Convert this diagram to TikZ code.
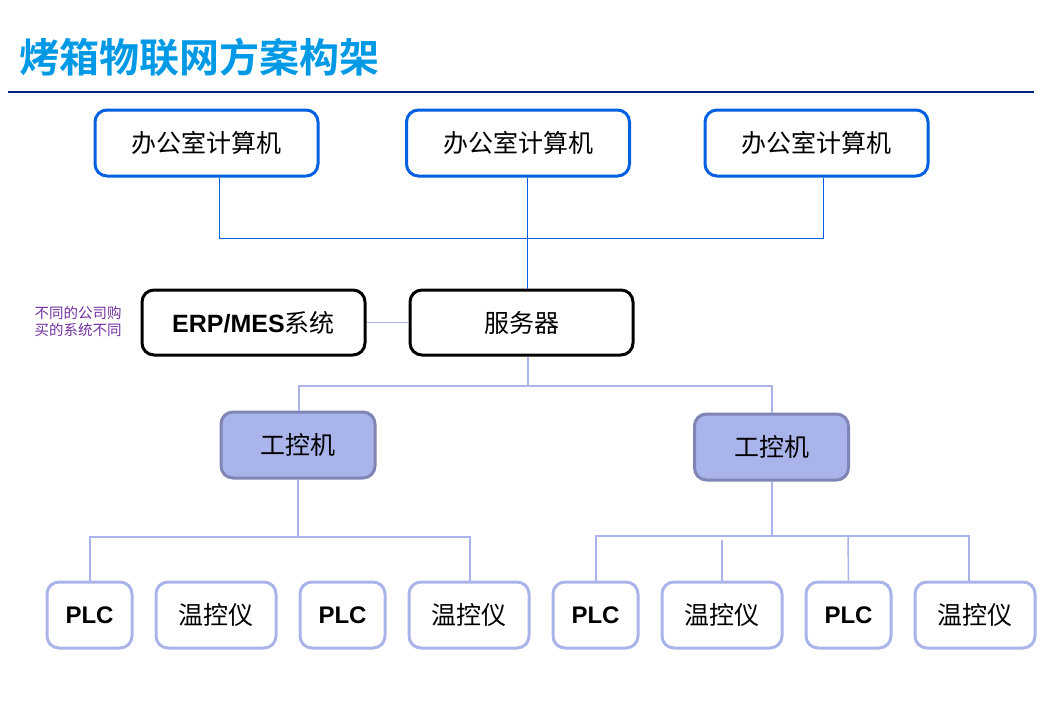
\documentclass[tikz,border=0pt]{standalone}
\usepackage{fontspec}
\setmainfont{Liberation Sans}
\newfontfamily\cjk{Noto Sans CJK SC}
\newfontfamily\cjkb{Noto Sans CJK SC Bold}
\definecolor{titleblue}{RGB}{0,153,230}
\definecolor{navy}{RGB}{0,32,128}
\definecolor{boxblue}{RGB}{0,96,224}
\definecolor{sidepurple}{RGB}{112,48,160}
\definecolor{lightline}{RGB}{170,180,234}
\definecolor{ipcfill}{RGB}{169,180,234}
\definecolor{ipcdraw}{RGB}{127,134,181}
\tikzset{
  box/.style={rectangle, rounded corners=12pt, line width=3pt, align=center, inner sep=0pt},
  topbox/.style={box, draw=boxblue, minimum width=223pt, minimum height=66pt, font=\cjk\fontsize{25}{30}\selectfont},
  midbox/.style={box, draw=black, minimum width=223pt, minimum height=65pt, font=\fontsize{25}{30}\selectfont},
  ipcbox/.style={box, draw=ipcdraw, fill=ipcfill, minimum width=154pt, minimum height=66pt, font=\cjk\fontsize{25}{30}\selectfont},
  plcbox/.style={box, draw=lightline, minimum width=85pt, minimum height=66pt, font=\bfseries\fontsize{24}{28}\selectfont},
  tcbox/.style={box, draw=lightline, minimum width=120pt, minimum height=66pt, font=\cjk\fontsize{25}{30}\selectfont},
  blueline/.style={draw=boxblue, line width=1pt},
  purpline/.style={draw=lightline, line width=1.5pt},
}
\begin{document}
\begin{tikzpicture}[x=1pt,y=-1pt]
\useasboundingbox (0,0) rectangle (1044,723);
% title
\node[anchor=west, inner sep=0pt, text=titleblue, font=\cjkb\fontsize{40}{44}\selectfont] (title) at (19,57) {烤箱物联网方案构架};
\draw[navy, line width=2pt] (8,92) -- (1034,92);
% top
\node[topbox] (pc1) at (206.5,143) {办公室计算机};
\node[topbox] (pc2) at (518,143) {办公室计算机};
\node[topbox] (pc3) at (816.5,143) {办公室计算机};
% middle
\node[midbox] (erp) at (253.5,322.5) {\textbf{ERP/MES}{\cjk 系统}};
\node[midbox, font=\cjk\fontsize{25}{30}\selectfont] (srv) at (521.5,322.5) {服务器};
\node[text=sidepurple, font=\cjk\fontsize{14.5}{17}\selectfont, align=center, inner sep=0pt] (note) at (78,321.5) {不同的公司购\\买的系统不同};
% ipc
\node[ipcbox] (ipc1) at (298,445) {工控机};
\node[ipcbox] (ipc2) at (771.5,447) {工控机};
% bottom
\node[plcbox] (plc1) at (89.5,615) {PLC};
\node[tcbox] (tc1) at (216,615) {温控仪};
\node[plcbox] (plc2) at (342.5,615) {PLC};
\node[tcbox] (tc2) at (469,615) {温控仪};
\node[plcbox] (plc3) at (595.5,615) {PLC};
\node[tcbox] (tc3) at (722,615) {温控仪};
\node[plcbox] (plc4) at (848.5,615) {PLC};
\node[tcbox] (tc4) at (975,615) {温控仪};
% top connectors
\coordinate (ta) at (219,238);
\coordinate (tb) at (823,238);
\draw[blueline] (pc1.south -| ta) -- (ta) -- (tb) -- (pc3.south -| tb);
\draw[blueline] (pc2.south -| 527,0) -- (srv.north -| 527,0);
% erp-server
\draw[purpline, line width=1pt] (erp.east) -- (srv.west);
% server to ipc
\coordinate (sa) at (299,386);
\coordinate (sb) at (772,386);
\draw[purpline] (srv.south -| 528,0) -- (528,386);
\draw[purpline] (ipc1.north -| sa) -- (sa) -- (sb) -- (ipc2.north -| sb);
% ipc1 to devices
\coordinate (la) at (90,537);
\coordinate (lb) at (470,537);
\draw[purpline] (ipc1.south) -- (298,537);
\draw[purpline] (plc1.north -| la) -- (la) -- (lb) -- (tc2.north -| lb);
% ipc2 to devices
\coordinate (ra) at (596,536);
\coordinate (rb) at (969,536);
\draw[purpline] (ipc2.south -| 772,0) -- (772,536);
\draw[purpline] (plc3.north -| ra) -- (ra) -- (rb) -- (tc4.north -| rb);
\draw[purpline] (tc3.north) -- (722,540);
\draw[purpline] (plc4.north) -- (848,536);
\end{tikzpicture}
\end{document}
